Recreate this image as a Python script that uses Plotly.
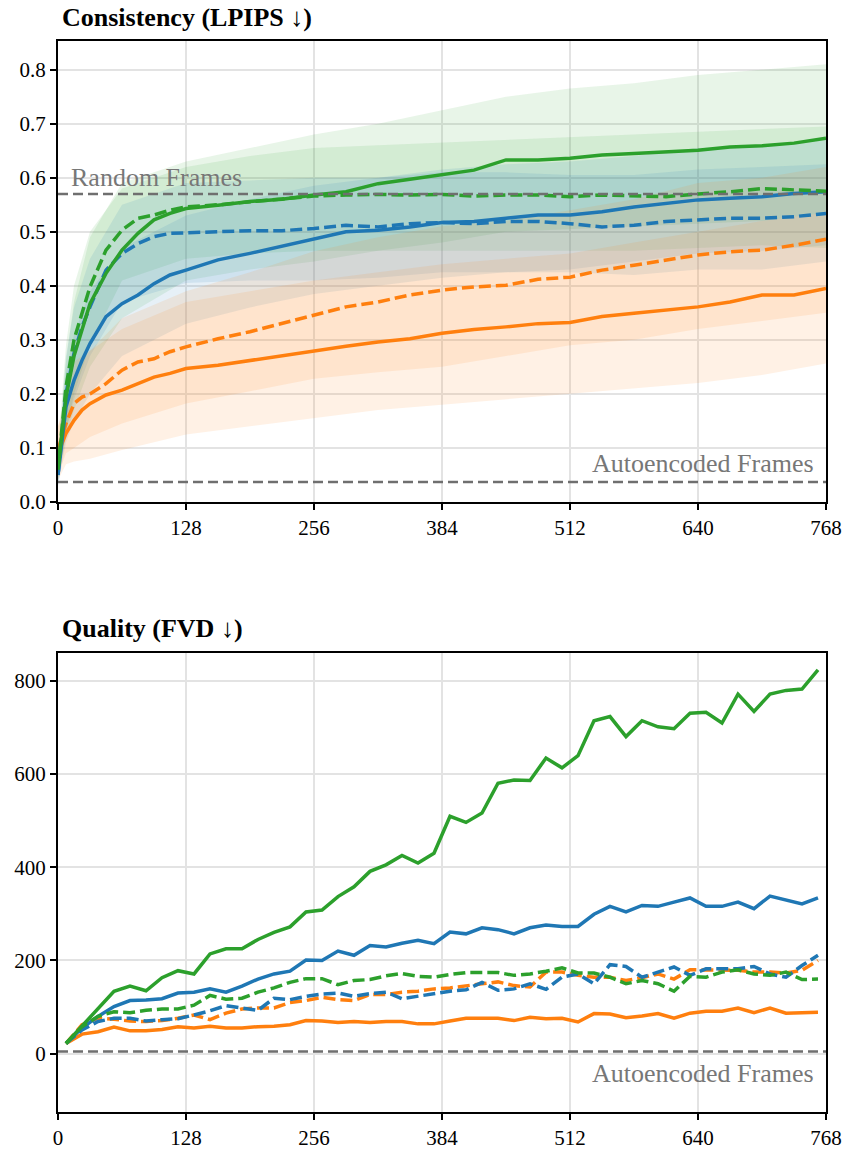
import plotly.graph_objects as go

# ---------------- Top chart: LPIPS consistency ----------------
LPIPS_FRAMES = [0, 8, 16, 24, 32, 48, 64, 80, 96, 112, 128, 160, 192, 224, 256, 288,
                320, 352, 384, 416, 448, 480, 512, 544, 576, 608, 640, 672, 704, 736, 768]

green_solid = [0.060, 0.194, 0.270, 0.318, 0.367, 0.423, 0.466, 0.497, 0.522, 0.534, 0.543,
               0.549, 0.556, 0.560, 0.568, 0.574, 0.589, 0.597, 0.605, 0.614, 0.633, 0.633,
               0.636, 0.642, 0.645, 0.648, 0.651, 0.657, 0.659, 0.664, 0.673]
green_dashed = [0.060, 0.213, 0.300, 0.349, 0.398, 0.466, 0.503, 0.525, 0.531, 0.540, 0.546,
                0.550, 0.555, 0.560, 0.566, 0.568, 0.569, 0.568, 0.569, 0.566, 0.568, 0.568,
                0.565, 0.568, 0.566, 0.565, 0.570, 0.574, 0.580, 0.577, 0.575]
blue_solid = [0.050, 0.176, 0.225, 0.262, 0.293, 0.343, 0.367, 0.383, 0.404, 0.420, 0.429,
              0.448, 0.460, 0.473, 0.487, 0.500, 0.503, 0.509, 0.517, 0.519, 0.525, 0.531,
              0.531, 0.537, 0.546, 0.552, 0.559, 0.562, 0.565, 0.571, 0.574]
blue_dashed = [0.050, 0.200, 0.275, 0.324, 0.361, 0.429, 0.460, 0.478, 0.491, 0.497, 0.498,
               0.500, 0.502, 0.502, 0.506, 0.512, 0.509, 0.515, 0.517, 0.515, 0.519, 0.519,
               0.515, 0.509, 0.512, 0.519, 0.522, 0.525, 0.525, 0.528, 0.534]
orange_solid = [0.090, 0.127, 0.151, 0.170, 0.182, 0.198, 0.207, 0.219, 0.231, 0.238, 0.247,
                0.253, 0.262, 0.270, 0.279, 0.288, 0.296, 0.302, 0.312, 0.319, 0.324, 0.330,
                0.332, 0.343, 0.349, 0.355, 0.361, 0.370, 0.383, 0.383, 0.395]
orange_dashed = [0.096, 0.145, 0.182, 0.194, 0.200, 0.219, 0.244, 0.259, 0.265, 0.278, 0.287,
                 0.302, 0.315, 0.330, 0.346, 0.361, 0.370, 0.383, 0.392, 0.398, 0.401, 0.412,
                 0.416, 0.429, 0.438, 0.448, 0.457, 0.463, 0.466, 0.475, 0.486]

BAND_FRAMES = [0, 8, 16, 32, 64, 128, 192, 256, 320, 384, 448, 512, 576, 640, 704, 768]
green_solid_hi = [0.09, 0.26, 0.37, 0.49, 0.59, 0.63, 0.655, 0.68, 0.70, 0.725, 0.75, 0.765, 0.775, 0.79, 0.80, 0.81]
green_solid_lo = [0.04, 0.12, 0.17, 0.25, 0.34, 0.41, 0.43, 0.445, 0.465, 0.48, 0.50, 0.505, 0.51, 0.515, 0.52, 0.535]
green_dashed_hi = [0.10, 0.29, 0.40, 0.50, 0.58, 0.62, 0.64, 0.655, 0.66, 0.665, 0.67, 0.675, 0.68, 0.685, 0.69, 0.695]
green_dashed_lo = [0.04, 0.13, 0.20, 0.29, 0.41, 0.45, 0.46, 0.465, 0.465, 0.465, 0.465, 0.465, 0.465, 0.47, 0.475, 0.47]
blue_solid_hi = [0.08, 0.24, 0.31, 0.39, 0.47, 0.53, 0.56, 0.585, 0.60, 0.615, 0.625, 0.63, 0.64, 0.655, 0.66, 0.67]
blue_solid_lo = [0.03, 0.11, 0.15, 0.20, 0.27, 0.33, 0.36, 0.385, 0.40, 0.415, 0.425, 0.43, 0.445, 0.46, 0.465, 0.475]
blue_dashed_hi = [0.08, 0.27, 0.36, 0.45, 0.55, 0.59, 0.595, 0.60, 0.60, 0.61, 0.61, 0.605, 0.605, 0.615, 0.62, 0.625]
blue_dashed_lo = [0.03, 0.13, 0.19, 0.27, 0.37, 0.405, 0.41, 0.41, 0.415, 0.425, 0.425, 0.425, 0.42, 0.43, 0.43, 0.445]
orange_solid_hi = [0.14, 0.18, 0.23, 0.28, 0.32, 0.37, 0.39, 0.41, 0.425, 0.44, 0.45, 0.46, 0.48, 0.50, 0.52, 0.535]
orange_solid_lo = [0.04, 0.07, 0.075, 0.08, 0.096, 0.125, 0.14, 0.155, 0.17, 0.18, 0.19, 0.20, 0.21, 0.22, 0.235, 0.256]
orange_dashed_hi = [0.14, 0.20, 0.26, 0.28, 0.34, 0.39, 0.425, 0.464, 0.49, 0.51, 0.52, 0.54, 0.56, 0.59, 0.60, 0.62]
orange_dashed_lo = [0.05, 0.09, 0.10, 0.12, 0.145, 0.182, 0.205, 0.228, 0.24, 0.25, 0.27, 0.29, 0.30, 0.32, 0.335, 0.35]

RANDOM_FRAMES_LPIPS = 0.570
AUTOENC_LPIPS = 0.037

# ---------------- Bottom chart: FVD quality ----------------
FVD_FRAMES = [8 + 16 * i for i in range(48)]
fvd_green_solid = [22, 60, 96, 134, 145, 135, 163, 178, 171, 214, 225, 225, 245, 260, 272, 304,
                   308, 337, 358, 391, 405, 425, 409, 430, 509, 496, 516, 580, 587, 586, 634,
                   613, 639, 714, 723, 680, 714, 701, 697, 730, 732, 709, 771, 734, 771, 779, 782, 823]
fvd_blue_solid = [22, 55, 80, 101, 114, 115, 118, 130, 132, 139, 132, 145, 160, 171, 177, 201,
                  200, 220, 211, 232, 229, 237, 243, 236, 261, 257, 270, 266, 257, 270, 276,
                  273, 273, 299, 316, 304, 318, 316, 325, 334, 316, 316, 325, 311, 338, 330, 321, 334]
fvd_orange_solid = [22, 42, 47, 57, 49, 49, 52, 58, 55, 59, 55, 55, 58, 59, 62, 71,
                    70, 67, 69, 67, 69, 69, 64, 64, 70, 76, 76, 76, 71, 78, 75,
                    76, 68, 86, 85, 77, 81, 86, 76, 87, 91, 91, 98, 88, 98, 87, 88, 89]
fvd_green_dashed = [22, 58, 80, 90, 88, 93, 96, 96, 104, 125, 117, 119, 132, 141, 153, 161,
                    161, 148, 157, 159, 167, 172, 166, 164, 170, 174, 174, 174, 168, 171, 177,
                    184, 173, 173, 164, 150, 157, 150, 134, 166, 164, 175, 180, 171, 168, 175, 159, 160]
fvd_blue_dashed = [22, 51, 69, 76, 76, 70, 73, 75, 83, 92, 103, 98, 93, 119, 116, 123,
                   128, 130, 123, 129, 132, 118, 123, 128, 134, 137, 153, 136, 139, 150, 138,
                   164, 171, 150, 191, 187, 164, 175, 186, 168, 182, 182, 182, 187, 171, 164, 189, 211]
fvd_orange_dashed = [22, 62, 76, 74, 70, 69, 71, 76, 83, 73, 87, 96, 98, 98, 110, 114,
                     121, 116, 114, 127, 127, 132, 134, 139, 141, 146, 150, 154, 146, 143, 175,
                     175, 168, 164, 164, 157, 163, 171, 160, 180, 180, 179, 179, 175, 175, 173, 179, 200]
AUTOENC_FVD = 5

X_TICKS = [0, 128, 256, 384, 512, 640, 768]

BLUE = "#1f77b4"
ORANGE = "#ff7f0e"
GREEN = "#2ca02c"
GRAY = "#6f6f6f"
DASH = "12px,5px"
REF_DASH = "10px,5px"
FONT = "Liberation Serif"


def rgba(hex_color, a):
    h = hex_color.lstrip("#")
    r, g, b = int(h[0:2], 16), int(h[2:4], 16), int(h[4:6], 16)
    return f"rgba({r},{g},{b},{a})"


fig = go.Figure()

# bands (top chart)
bands = [
    (green_solid_lo, green_solid_hi, GREEN),
    (green_dashed_lo, green_dashed_hi, GREEN),
    (blue_solid_lo, blue_solid_hi, BLUE),
    (blue_dashed_lo, blue_dashed_hi, BLUE),
    (orange_solid_lo, orange_solid_hi, ORANGE),
    (orange_dashed_lo, orange_dashed_hi, ORANGE),
]
for lo, hi, col in bands:
    fig.add_trace(go.Scatter(x=BAND_FRAMES, y=lo, mode="lines", line=dict(width=0),
                             showlegend=False, hoverinfo="skip", xaxis="x", yaxis="y"))
    fig.add_trace(go.Scatter(x=BAND_FRAMES, y=hi, mode="lines", line=dict(width=0),
                             fill="tonexty", fillcolor=rgba(col, 0.11),
                             showlegend=False, hoverinfo="skip", xaxis="x", yaxis="y"))

top_lines = [
    (orange_solid, ORANGE, "solid"),
    (orange_dashed, ORANGE, DASH),
    (blue_solid, BLUE, "solid"),
    (blue_dashed, BLUE, DASH),
    (green_solid, GREEN, "solid"),
    (green_dashed, GREEN, DASH),
]
for ys, col, dash in top_lines:
    fig.add_trace(go.Scatter(x=LPIPS_FRAMES, y=ys, mode="lines",
                             line=dict(color=col, width=3.5, dash=dash),
                             showlegend=False, xaxis="x", yaxis="y"))

bottom_lines = [
    (fvd_orange_solid, ORANGE, "solid"),
    (fvd_orange_dashed, ORANGE, DASH),
    (fvd_blue_solid, BLUE, "solid"),
    (fvd_blue_dashed, BLUE, DASH),
    (fvd_green_solid, GREEN, "solid"),
    (fvd_green_dashed, GREEN, DASH),
]
for ys, col, dash in bottom_lines:
    fig.add_trace(go.Scatter(x=FVD_FRAMES, y=ys, mode="lines",
                             line=dict(color=col, width=3.5, dash=dash),
                             showlegend=False, xaxis="x2", yaxis="y2"))

axis_common = dict(
    showline=True, linecolor="black", linewidth=2, mirror=True,
    ticks="outside", ticklen=6, tickwidth=1.5, tickcolor="black",
    showgrid=True, gridcolor="#e3e3e3", gridwidth=1.5, zeroline=False,
    tickfont=dict(family=FONT, size=21, color="black"),
    automargin=False,
)

fig.update_layout(
    width=843, height=1150,
    margin=dict(l=58, r=17, t=41, b=38, autoexpand=False),
    paper_bgcolor="white", plot_bgcolor="white",
    font=dict(family=FONT, color="black"),
    xaxis=dict(domain=[0, 1], anchor="y", range=[0, 768], tickvals=X_TICKS, **axis_common),
    yaxis=dict(domain=[0.5696, 1], anchor="x", range=[0, 0.853],
               tickvals=[0, 0.1, 0.2, 0.3, 0.4, 0.5, 0.6, 0.7, 0.8], tickformat=".1f",
               **axis_common),
    xaxis2=dict(domain=[0, 1], anchor="y2", range=[0, 768], tickvals=X_TICKS, **axis_common),
    yaxis2=dict(domain=[0, 0.4289], anchor="x2", range=[-125, 860],
                tickvals=[0, 200, 400, 600, 800], **axis_common),
    shapes=[
        dict(type="line", xref="x domain", yref="y", x0=0, x1=1,
             y0=RANDOM_FRAMES_LPIPS, y1=RANDOM_FRAMES_LPIPS,
             line=dict(color=GRAY, width=2.5, dash=REF_DASH)),
        dict(type="line", xref="x domain", yref="y", x0=0, x1=1,
             y0=AUTOENC_LPIPS, y1=AUTOENC_LPIPS,
             line=dict(color=GRAY, width=2.5, dash=REF_DASH)),
        dict(type="line", xref="x2 domain", yref="y2", x0=0, x1=1,
             y0=AUTOENC_FVD, y1=AUTOENC_FVD,
             line=dict(color=GRAY, width=2.5, dash=REF_DASH)),
    ],
    annotations=[
        dict(text="<b>Consistency (LPIPS ↓)</b>", xref="paper", yref="paper",
             x=0.003, y=1.0215, xanchor="left", yanchor="middle", showarrow=False,
             font=dict(family=FONT, size=26, color="black")),
        dict(text="<b>Quality (FVD ↓)</b>", xref="paper", yref="paper",
             x=0.003, y=0.451, xanchor="left", yanchor="middle", showarrow=False,
             font=dict(family=FONT, size=26, color="black")),
        dict(text="Random Frames", xref="x", yref="y", x=11, y=0.601,
             xanchor="left", yanchor="middle", showarrow=False,
             font=dict(family=FONT, size=26, color="#777777")),
        dict(text="Autoencoded Frames", xref="x", yref="y", x=758, y=0.072,
             xanchor="right", yanchor="middle", showarrow=False,
             font=dict(family=FONT, size=26, color="#777777")),
        dict(text="Autoencoded Frames", xref="x2", yref="y2", x=758, y=-42,
             xanchor="right", yanchor="middle", showarrow=False,
             font=dict(family=FONT, size=26, color="#777777")),
    ],
)

# remove the default 8px page margin so the figure fills the window exactly
fig.write_html("out.html", config={"displayModeBar": False},
               post_script="document.body.style.margin='0px';")
